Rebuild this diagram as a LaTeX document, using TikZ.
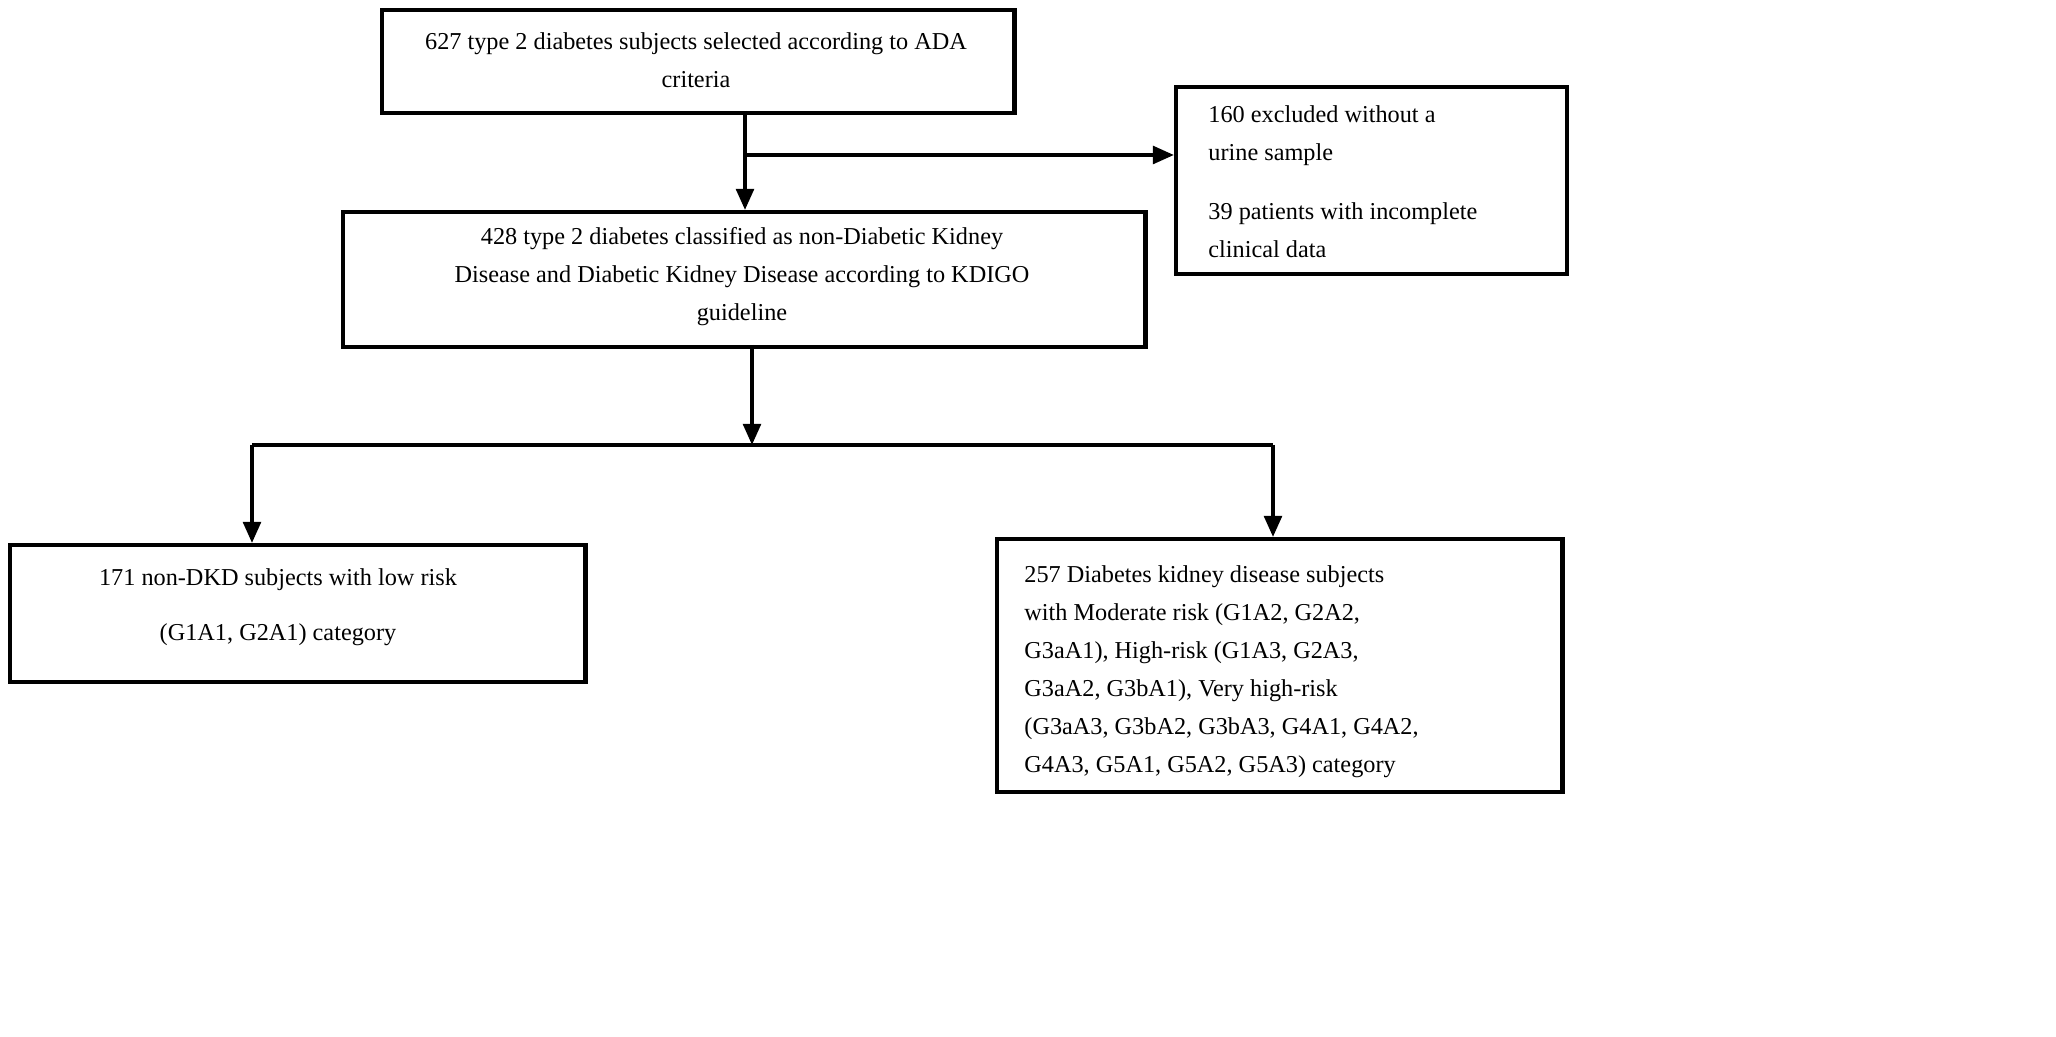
\documentclass[tikz,border=0pt]{standalone}
\usepackage{fontspec}
\setmainfont{Liberation Serif}
\usetikzlibrary{arrows.meta}
\begin{document}
\begin{tikzpicture}[x=0.01cm,y=-0.01cm,
  box/.style={draw,line width=1.2pt,inner sep=0pt},
  txt/.style={font=\fontsize{6.9pt}{10.8pt}\selectfont,align=center},
  conn/.style={line width=1.1pt},
  arr/.style={conn,-{Triangle[length=6pt,width=5pt]}}]
\useasboundingbox (0,0) rectangle (2056,1037);
\node[box,anchor=north west,minimum width=6.32cm,minimum height=1.03cm] (top) at (380,8) {};
\node[txt] (toptxt) at (696,60) {627 type 2 diabetes subjects selected according to ADA\\criteria};
\node[box,anchor=north west,minimum width=3.91cm,minimum height=1.87cm] (excl) at (1174,85) {};
\node[txt,align=left,anchor=north west] (excltxt) at (1196,93) {160 excluded without a\\urine sample\\[6pt]39 patients with incomplete\\clinical data};
\node[box,anchor=north west,minimum width=8.02cm,minimum height=1.35cm] (mid) at (341,210) {};
\node[txt] (midtxt) at (742,277) {428 type 2 diabetes classified as non-Diabetic Kidney\\Disease and Diabetic Kidney Disease according to KDIGO\\guideline};
\node[box,anchor=north west,minimum width=5.75cm,minimum height=1.37cm] (low) at (8,543) {};
\node[txt,anchor=north] (lowtxt) at (278,556) {171 non-DKD subjects with low risk\\[5pt](G1A1, G2A1) category};
\node[box,anchor=north west,minimum width=5.65cm,minimum height=2.53cm] (high) at (995,537) {};
\node[txt,align=left,anchor=north west] (hightxt) at (1012,553) {257 Diabetes kidney disease subjects\\with Moderate risk (G1A2, G2A2,\\G3aA1), High-risk (G1A3, G2A3,\\G3aA2, G3bA1), Very high-risk\\(G3aA3, G3bA2, G3bA3, G4A1, G4A2,\\G4A3, G5A1, G5A2, G5A3) category};
\coordinate (a1) at (745,111);
\coordinate (a2) at (745,210);
\coordinate (br) at (745,155);
\coordinate (m1) at (752,345);
\coordinate (m2) at (752,445);
\coordinate (hl) at (252,445);
\coordinate (hr) at (1273,445);
\draw[arr] (a1) -- (a2);
\draw[arr] (br) -- (br -| excl.west);
\draw[arr] (m1) -- (m2);
\draw[conn] (hl) -- (hr);
\draw[arr] (hl) -- (hl |- low.north);
\draw[arr] (hr) -- (hr |- high.north);
\end{tikzpicture}
\end{document}
